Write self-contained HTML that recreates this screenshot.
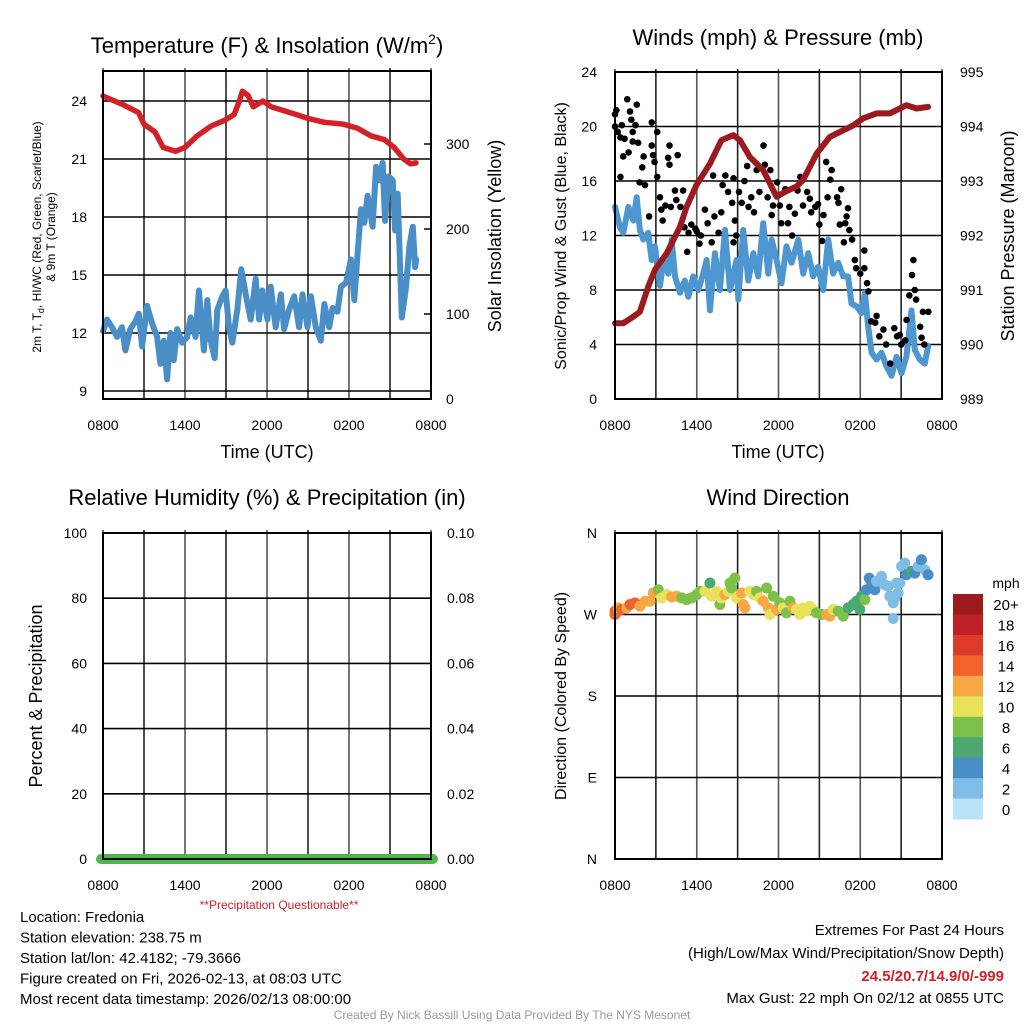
<!DOCTYPE html>
<html><head><meta charset="utf-8"><style>
html,body{margin:0;padding:0;background:#fff;}
svg{display:block;font-family:"Liberation Sans",sans-serif;}
</style></head><body>
<svg id="s" width="1024" height="1024" viewBox="0 0 1024 1024" xmlns="http://www.w3.org/2000/svg"></svg>
<script>
// ---------- data ----------
const xTickLabels=["0800","1400","2000","0200","0800"];
const tempTicks=[9,12,15,18,21,24];
const insolTicks=[0,100,200,300];
const windTicks=[0,4,8,12,16,20,24];
const presTicks=[989,990,991,992,993,994,995];
const rhTicks=[0,20,40,60,80,100];
const precipTicks=["0.00","0.02","0.04","0.06","0.08","0.10"];
const dirLabels=["N","E","S","W","N"];
const speedLabels=["0","2","4","6","8","10","12","14","16","18","20+"];
const speedColors=["#b9e3f7","#80bde6","#4a8ec8","#4aa870","#7dc14b","#e8e25a","#f7a845","#f1622c","#de3a2a","#bf1f26","#9b1a1e"];

const redT=[0,1.5,2.6,3.0,3.8,4.4,5.3,6.0,6.9,7.9,8.9,9.6,10.0,10.2,10.6,11.0,11.7,12.3,13.7,15.0,16.2,17.6,18.6,19.6,20.6,21.3,22.0,22.5,22.9];
const redV=[24.26,23.8,23.4,22.8,22.4,21.6,21.4,21.6,22.2,22.7,23.0,23.3,24.05,24.5,24.3,23.7,24.0,23.7,23.4,23.1,22.9,22.8,22.6,22.2,22.0,21.6,21.0,20.75,20.8];
const blueT=[0,0.29,0.66,1.03,1.39,1.64,2.0,2.37,2.62,2.86,3.23,3.59,3.96,4.2,4.45,4.69,4.94,5.18,5.43,5.79,6.16,6.41,6.77,7.02,7.38,7.63,7.87,8.17,8.36,8.73,8.97,9.22,9.46,9.83,10.12,10.44,10.81,11.17,11.42,11.66,12.03,12.27,12.64,13.01,13.25,13.62,13.99,14.35,14.6,14.96,15.21,15.57,15.94,16.19,16.55,16.8,17.16,17.41,17.78,18.14,18.39,18.63,18.88,19.12,19.36,19.73,19.98,20.22,20.46,20.64,20.9,21.2,21.37,21.56,21.86,22.18,22.42,22.67,22.84,22.91];
const blueV=[12.1,12.7,12.3,11.8,12.3,11.1,12.2,12.6,13.0,11.3,13.4,12.5,11.8,10.4,11.6,9.6,12.0,10.6,12.2,11.5,11.8,12.8,11.8,14.2,11.1,13.7,11.6,10.7,13.2,13.9,14.2,12.3,11.5,13.2,15.3,14.0,12.7,14.8,12.7,14.2,12.7,14.4,12.3,14.0,12.2,13.2,13.9,12.3,14.0,12.3,13.9,12.3,11.6,13.5,12.3,13.3,13.1,14.4,14.6,15.8,13.7,16.1,18.4,17.7,19.1,17.5,20.6,19.9,20.8,17.8,20.1,19.9,17.3,19.2,12.8,14.4,16.5,17.5,15.4,15.8];

const presT=[0,0.61,1.34,1.83,2.44,2.93,3.79,4.77,5.26,5.99,6.97,7.82,8.68,9.17,9.9,10.88,11.86,12.47,13.33,13.81,14.79,15.77,16.5,17.48,18.22,19.19,20.17,20.9,21.39,22.13,22.98];
const presV=[990.39,990.39,990.51,990.6,991.06,991.37,991.67,992.16,992.53,992.93,993.32,993.75,993.84,993.75,993.44,993.2,992.71,992.8,992.9,993.02,993.5,993.81,993.9,994.02,994.15,994.24,994.24,994.33,994.39,994.33,994.36];
const windT=[0,0.37,0.61,0.98,1.34,1.59,1.83,2.08,2.44,2.69,2.93,3.3,3.55,3.91,4.16,4.4,4.77,5.13,5.38,5.75,6.11,6.48,6.72,6.97,7.33,7.7,8.07,8.44,8.92,9.05,9.41,9.78,10.15,10.51,10.88,11.25,11.49,11.86,12.22,12.59,12.96,13.45,13.81,14.18,14.55,14.91,15.28,15.65,16.01,16.38,16.75,17.11,17.36,17.73,18.09,18.34,18.58,18.83,19.19,19.56,19.93,20.29,20.66,21.03,21.39,21.76,22.0,22.37,22.74,22.98];
const windV=[14.1,12.6,12.2,14.1,13.1,14.8,12.4,11.7,12.2,10.2,11.2,8.3,10.2,9.2,11.7,9.0,7.8,8.7,7.5,9.0,8.0,9.2,10.2,6.5,10.7,8.0,12.4,8.0,10.2,7.3,12.4,8.7,10.7,9.0,12.9,9.2,11.7,10.2,8.5,11.2,10.0,11.7,9.2,10.7,9.0,9.7,8.0,11.7,9.2,10.0,9.0,9.0,7.0,6.8,6.3,7.8,5.3,3.4,2.9,3.4,2.4,1.7,3.1,1.9,3.1,6.5,3.6,2.9,2.6,3.9];
const gustT=[0,0.1,0,0.2,0.4,0.4,0.5,0.6,0.7,0.9,1.0,1.1,1.2,1.3,1.5,1.6,1.3,1.7,2.0,2.1,1.8,2.2,2.5,2.7,2.7,2.8,2.9,3.1,3.1,3.3,3.4,3.5,3.7,3.9,4.0,4.0,4.1,4.4,4.5,4.6,4.8,5.0,5.1,5.4,5.3,5.6,5.9,6.0,6.2,6.3,6.6,6.8,7.1,7.2,7.3,7.6,7.8,7.9,8.1,8.3,8.6,8.7,8.8,8.9,8.7,9.1,9.3,9.5,9.7,9.8,10.0,10.2,10.4,10.6,10.9,11.0,11.2,11.4,11.5,11.6,11.9,12.1,12.2,12.5,12.7,12.8,13.0,13.2,13.4,13.6,13.8,14.1,14.3,14.4,14.7,14.9,15.0,15.2,15.3,15.5,15.6,15.9,15.8,16.3,16.4,16.6,16.5,16.9,17.0,17.1,17.2,16.8,17.4,17.6,17.7,18.0,18.3,18.3,18.5,18.6,18.8,19.1,19.2,19.4,19.7,19.9,20.2,20.5,20.7,20.9,21.0,21.3,21.4,21.6,21.8,21.9,22.0,22.1,22.4,22.5,22.6,22.7,23.0];
const gustV=[20.9,21.2,20.0,19.6,19.2,16.3,20.1,17.8,19.1,22.0,18.1,21.1,20.5,19.6,20.1,21.6,18.9,18.8,17.0,17.8,15.9,15.7,13.4,20.3,18.6,17.9,17.4,16.3,19.6,14.8,13.9,13.1,14.2,17.7,18.6,17.2,14.1,15.3,14.6,17.9,14.1,15.3,12.6,12.2,10.8,12.8,12.5,12.3,11.4,12.0,13.9,12.9,11.5,16.4,13.4,12.2,13.7,15.7,16.4,15.2,14.4,16.2,13.1,12.0,11.5,15.2,14.4,16.0,17.1,14.1,14.8,13.7,16.8,15.2,18.6,17.2,14.8,16.8,13.5,14.2,15.9,14.2,12.9,15.4,12.9,14.1,12.0,13.6,15.3,16.3,14.2,15.2,14.7,13.7,14.1,14.3,12.8,11.6,13.5,17.4,14.8,16.8,16.1,14.8,14.4,15.4,12.8,12.9,13.4,14.0,12.4,11.5,11.7,10.2,9.6,9.2,10.9,9.6,8.5,7.9,5.7,5.6,6.1,4.6,5.1,4.0,2.6,5.2,4.6,4.7,4.0,4.3,5.8,7.6,9.1,10.2,8.0,7.3,5.3,4.5,6.4,4.0,6.4];

const dirT=[0,0,0.24,0.49,0.86,1.1,1.47,1.83,2.2,2.57,2.81,3.18,3.42,3.79,4.16,4.52,4.89,5.26,5.62,5.99,6.24,6.6,6.97,7.09,7.46,7.7,7.82,8.07,8.31,8.44,8.56,8.8,8.92,9.29,9.41,9.54,9.9,10.15,10.39,10.64,10.88,11.13,11.25,11.37,11.61,11.86,12.1,12.35,12.59,12.84,13.08,13.33,13.57,13.81,14.06,14.3,14.55,14.79,15.16,15.53,15.77,16.01,16.38,16.75,17.11,17.48,17.73,17.97,18.09,18.34,18.46,18.66,18.83,19.07,19.19,19.56,19.8,20.05,20.17,20.42,20.54,20.66,20.9,20.42,20.78,21.03,21.27,21.39,21.76,22.0,22.25,22.49,22.74,22.98];
const dirV=[270,273.7,277.3,275.5,277.3,281,282.8,279.1,284.6,284.6,293.8,297.4,288.3,292,289.4,290.1,288.3,286.5,288.3,292,295.6,295.6,304.8,290.1,295.6,281,288.3,292,295.6,304.8,299.3,310.2,288.3,293.8,281,277.3,295.6,292,295.6,288.3,284.6,299.3,277.3,270,290.1,275.5,282.8,277.3,271.8,284.6,277.3,275.5,270,277.3,273.7,279.1,275.5,271.8,270,270,268.2,275.5,273.7,268.2,277.3,281,284.6,275.5,290.1,286.5,297.4,310.2,306.6,297.4,306.6,312.1,302.9,301.1,290.1,282.8,288.3,304.8,304.8,265.6,293.8,323.1,326.7,313.9,317.6,315.7,323.1,330.4,319.4,313.9];
const dirS=[14,14,12,14,12,14,14,12,12,12,12,8,10,10,12,12,8,8,8,8,8,10,6,10,10,8,10,12,10,8,8,8,10,12,12,12,10,10,8,10,12,8,12,10,8,12,8,10,8,8,12,10,10,10,10,10,10,8,8,12,12,10,8,8,6,6,6,6,6,8,4,4,4,4,2,2,2,2,2,2,2,2,2,2,2,2,2,4,6,4,2,4,2,4];

// ---------- helpers ----------
const NS="http://www.w3.org/2000/svg";
const svg=document.getElementById('s');
function mk(tag,attrs,parent){const e=document.createElementNS(NS,tag);for(const k in attrs)e.setAttribute(k,attrs[k]);(parent||svg).appendChild(e);return e;}
function txt(x,y,s,size,extra,parent){const t=mk('text',Object.assign({x:x,y:y,'font-size':size,fill:'#000'},extra||{}),parent);t.textContent=s;return t;}

function panel(name,L,T,R,B){
  const g=mk('g',{});
  
  
  const xs=h=>L+(R-L)*h/24;
  for(let i=0;i<=8;i++){const x=xs(i*3);const ln=mk('line',{x1:x,y1:T-3,x2:x,y2:B,stroke:i%2?'#222':'#555','stroke-width':1.6},g);}
  xTickLabels.forEach((l,i)=>{const t=txt(xs(i*6),B+31,l,14,{'text-anchor':'middle'},g);});
  return {g,xs};
}
function poly(g,ts,vs,xs,ys,color,w,name){
  const d=ts.map((t,i)=>(i?'L':'M')+xs(t).toFixed(1)+','+ys(vs[i]).toFixed(1)).join('');
  const p=mk('path',{d:d,fill:'none',stroke:color,'stroke-width':w,'stroke-linejoin':'round','stroke-linecap':'round'},g);
  return p;
}
function frame(g,L,T,R,B){const r=mk('rect',{x:L,y:T,width:R-L,height:B-T,fill:'none',stroke:'#000','stroke-width':2},g);}
function hgrid(g,y,L,R){const l=mk('line',{x1:L,y1:y,x2:R,y2:y,stroke:'#000','stroke-width':1.6},g);}

// ---------- panel 1: temperature ----------
(function(){
  const L=103,T=71,R=431,B=399;
  const {g,xs}=panel('temperature-panel',L,T,R,B);
  const ys=v=>101+(24-v)*58/3;
  const yi=v=>399-v*0.85;
  tempTicks.forEach(v=>{hgrid(g,ys(v),L,R);const t=txt(L-16,ys(v)+5,String(v),14,{'text-anchor':'end'},g);});
  insolTicks.forEach(v=>{mk('line',{x1:R,y1:yi(v),x2:R-7,y2:yi(v),stroke:'#000','stroke-width':1.5},g);const t=txt(R+15,yi(v)+5,String(v),14,{},g);});
  poly(g,redT,redV,xs,ys,'#d42027',5.5,'temperature-line');
  poly(g,blueT,blueV,xs,ys,'#4a8ec8',6,'windchill-line');
  frame(g,L,T,R,B);
  const t1=txt(267,53,'Temperature (F) & Insolation (W/m',22,{'text-anchor':'middle'},g);
  const sup=mk('tspan',{'font-size':14,dy:-9},t1);sup.textContent='2';
  const sp2=mk('tspan',{dy:9},t1);sp2.textContent=')';
  
  const xl=txt(267,458,'Time (UTC)',18,{'text-anchor':'middle'},g);
  const a=txt(0,0,'2m T, T',12,{'text-anchor':'middle',transform:'translate(41,237) rotate(-90)'},g);
  const s1=mk('tspan',{'font-size':9,dy:3},a);s1.textContent='d';
  const s2=mk('tspan',{dy:-3},a);s2.textContent=', HI/WC (Red, Green, Scarlet/Blue)';
  
  const a2=txt(0,0,'& 9m T (Orange)',12,{'text-anchor':'middle',transform:'translate(55,237) rotate(-90)'},g);
  const r=txt(0,0,'Solar Insolation (Yellow)',18,{'text-anchor':'middle',transform:'translate(501,236) rotate(-90)'},g);
})();

// ---------- panel 2: winds ----------
(function(){
  const L=615,T=72,R=942,B=399;
  const {g,xs}=panel('winds-panel',L,T,R,B);
  const ys=v=>B-v*(B-T)/24;
  const yp=v=>B-(v-989)*(B-T)/6;
  windTicks.forEach(v=>{hgrid(g,ys(v),L,R);const t=txt(L-18,ys(v)+5,String(v),14,{'text-anchor':'end'},g);});
  presTicks.forEach(v=>{const t=txt(R+18,yp(v)+5,String(v),14,{},g);});
  poly(g,windT,windV,xs,ys,'#4e96d0',6,'wind-speed-line');
  gustT.forEach((t,i)=>{const c=mk('circle',{cx:xs(t),cy:ys(gustV[i]),r:3.3,fill:'#000'},g);});
  poly(g,presT,presV,xs,yp,'#9b1a1e',6,'pressure-line');
  frame(g,L,T,R,B);
  const t1=txt(778,45,'Winds (mph) & Pressure (mb)',22,{'text-anchor':'middle'},g);
  const xl=txt(778,458,'Time (UTC)',18,{'text-anchor':'middle'},g);
  const a=txt(0,0,'Sonic/Prop Wind & Gust (Blue, Black)',16,{'text-anchor':'middle',transform:'translate(566,236) rotate(-90)'},g);
  const r=txt(0,0,'Station Pressure (Maroon)',18,{'text-anchor':'middle',transform:'translate(1014,236) rotate(-90)'},g);
})();

// ---------- panel 3: RH ----------
(function(){
  const L=103,T=533,R=431,B=859;
  const {g,xs}=panel('humidity-panel',L,T,R,B);
  const ys=v=>B-v*(B-T)/100;
  rhTicks.forEach((v,i)=>{hgrid(g,ys(v),L,R);const t=txt(L-16,ys(v)+5,String(v),14,{'text-anchor':'end'},g);
    const p=txt(R+16,ys(v)+5,precipTicks[i],14,{},g);});
  const gl=mk('line',{x1:L-2,y1:B,x2:R+2,y2:B,stroke:'#4db84d','stroke-width':10,'stroke-linecap':'round'},g);
  frame(g,L,T,R,B);
  const t1=txt(267,505,'Relative Humidity (%) & Precipitation (in)',22,{'text-anchor':'middle'},g);
  const a=txt(0,0,'Percent & Precipitation',18,{'text-anchor':'middle',transform:'translate(42,696) rotate(-90)'},g);
  const q=txt(279,909,'**Precipitation Questionable**',12,{'text-anchor':'middle',fill:'#d42027'},g);
})();

// ---------- panel 4: wind direction ----------
(function(){
  const L=615,T=533,R=942,B=859;
  const {g,xs}=panel('wind-direction-panel',L,T,R,B);
  const ys=v=>B-v*(B-T)/360;
  dirLabels.forEach((l,i)=>{hgrid(g,ys(i*90),L,R);const t=txt(L-18,ys(i*90)+5,l,14,{'text-anchor':'end'},g);});
  dirT.forEach((t,i)=>{const k=Math.min(10,Math.floor(dirS[i]/2));const c=mk('circle',{cx:xs(t),cy:ys(dirV[i]),r:5.5,fill:speedColors[k]},g);});
  frame(g,L,T,R,B);
  const t1=txt(778,505,'Wind Direction',22,{'text-anchor':'middle'},g);
  const a=txt(0,0,'Direction (Colored By Speed)',16,{'text-anchor':'middle',transform:'translate(566,696) rotate(-90)'},g);
  const cb=mk('g',{},g);
  const bh=(819-594)/11;
  for(let i=0;i<11;i++){const k=10-i;const y=594+i*bh;
    const r=mk('rect',{x:953,y:y,width:30,height:bh+0.5,fill:speedColors[k]},cb);
    const t=txt(1006,y+bh/2+6,speedLabels[k],15,{'text-anchor':'middle'},cb);}
  const u=txt(1006,588,'mph',14,{'text-anchor':'middle'},cb);
})();

// ---------- footer text ----------
const infoLines=["Location: Fredonia","Station elevation: 238.75 m","Station lat/lon: 42.4182; -79.3666","Figure created on Fri, 2026-02-13, at 08:03 UTC","Most recent data timestamp: 2026/02/13 08:00:00"];
infoLines.forEach((s,i)=>{const t=txt(20,922+i*20.5,s,15);});
const e1=txt(1004,935,'Extremes For Past 24 Hours',15,{'text-anchor':'end'});
const e2=txt(1004,958,'(High/Low/Max Wind/Precipitation/Snow Depth)',15,{'text-anchor':'end'});
const e3=txt(1004,981,'24.5/20.7/14.9/0/-999',15,{'text-anchor':'end',fill:'#d42027','font-weight':'bold'});
const e4=txt(1004,1003,'Max Gust: 22 mph On 02/12 at 0855 UTC',15,{'text-anchor':'end'});
const cr=txt(512,1019,'Created By Nick Bassill Using Data Provided By The NYS Mesonet',12,{'text-anchor':'middle',fill:'#999'});
</script>
</body></html>
